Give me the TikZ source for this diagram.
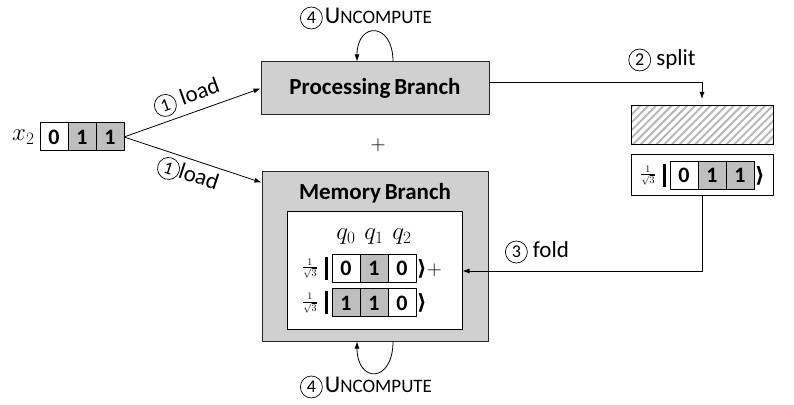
\documentclass[tikz,border=0pt]{standalone}
\usepackage{fontspec}
\setmainfont{Carlito}
\newfontfamily\symfont{DejaVu Sans}
\usetikzlibrary{positioning,patterns.meta,arrows.meta}
\definecolor{brgray}{HTML}{D0D0D0}
\definecolor{cellgray}{HTML}{BEBEBE}
\definecolor{hatchgray}{HTML}{B8B8B8}
\newcommand{\cnum}[1]{\tikz[baseline]\node[anchor=base,draw,circle,
  inner sep=0pt,minimum size=22pt,line width=.7pt,
  font=\fontsize{18}{18}\selectfont]{#1};}
\newcommand{\uncomp}{{\fontsize{24}{26}\selectfont U}%
  {\fontsize{19}{21}\selectfont NCOMPUTE}}
\newcommand{\barsym}{\rule[-5pt]{2.6pt}{23pt}}
\newcommand{\ketsym}{{\symfont\bfseries\fontsize{21}{23}\selectfont ⟩}}
\tikzset{
  cell/.style={draw,line width=1pt,minimum width=28pt,minimum height=28pt,
    inner sep=0pt,outer sep=0pt,font=\bfseries\fontsize{22}{24}\selectfont},
  branch/.style={draw=black!85,line width=1pt,fill=brgray},
  conn/.style={-{Latex[length=7pt,width=5pt]},line width=.8pt},
  lbl/.style={font=\fontsize{23}{25}\selectfont},
  bra/.style={inner sep=0pt,font=\fontsize{22}{24}\selectfont},
  frac/.style={inner sep=0pt,font=\fontsize{14}{16}\selectfont},
  qlab/.style={font=\fontsize{23}{25}\selectfont},
}

\begin{document}
\begin{tikzpicture}[x=1pt,y=1pt,line join=round]
\useasboundingbox (0,0) rectangle (794,404);
\fill[white] (0,0) rectangle (794,404);

% input register
\node[cell] (x0) at (54,267) {0};
\node[cell,fill=cellgray,right=0pt of x0] (x1) {1};
\node[cell,fill=cellgray,right=0pt of x1] (x2) {1};
\node[left=2pt of x0,font=\fontsize{24}{26}\selectfont] (xlab) {$x_2$};

% the two branches
\node[branch,minimum width=228pt,minimum height=53pt,
  font=\bfseries\fontsize{23}{25}\selectfont] (proc) at (375,315.5)
  {Processing\,Branch};
\node[branch,minimum width=226pt,minimum height=169pt] (mem) at (375,147.5) {};
\node[font=\bfseries\fontsize{23}{25}\selectfont] (memtitle) at (375,211)
  {Memory\,Branch};
\node[draw,line width=1pt,fill=white,minimum width=175pt,minimum height=118pt]
  (inner) at (374.5,133) {};
\node[font=\fontsize{22}{24}\selectfont] (plus) at (378,259) {$+$};

% memory contents
\node[qlab] (q0) at (346,167) {$q_0$};
\node[qlab] (q1) at (374,167) {$q_1$};
\node[qlab] (q2) at (402,167) {$q_2$};
\node[cell] (a0) at (346,135.5) {0};
\node[cell,fill=cellgray,right=0pt of a0] (a1) {1};
\node[cell,right=0pt of a1] (a2) {0};
\node[bra,left=4pt of a0] (abar) {\barsym};
\node[frac,left=7pt of abar] (afrac) {$\frac{1}{\sqrt{3}}$};
\node[bra,right=1pt of a2] (aket) {\ketsym$+$};
\node[cell,fill=cellgray] (b0) at (346,101) {1};
\node[cell,fill=cellgray,right=0pt of b0] (b1) {1};
\node[cell,right=0pt of b1] (b2) {0};
\node[bra,left=4pt of b0] (bbar) {\barsym};
\node[frac,left=7pt of bbar] (bfrac) {$\frac{1}{\sqrt{3}}$};
\node[bra,right=1pt of b2] (bket) {\ketsym};

% split side
\node[draw,line width=1pt,minimum width=142pt,minimum height=39pt,
  pattern={Lines[angle=45,distance=5.5pt,line width=2pt]},
  pattern color=hatchgray] (hatch) at (702,278.5) {};
\node[draw,line width=1pt,minimum width=142pt,minimum height=41pt]
  (sup) at (702,228.5) {};
\node[cell] (s0) at (684,228.5) {0};
\node[cell,fill=cellgray,right=0pt of s0] (s1) {1};
\node[cell,fill=cellgray,right=0pt of s1] (s2) {1};
\node[bra,left=4pt of s0] (sbar) {\barsym};
\node[frac,left=7pt of sbar] (sfrac) {$\frac{1}{\sqrt{3}}$};
\node[bra,right=1pt of s2] (sket) {\ketsym};

% connectors
\draw[conn] (x2.east) -- (proc.west)
  node[lbl,midway,sloped,above=1pt] (load1) {\cnum{1} load};
\draw[conn] (x2.east) -- ([yshift=-11pt]mem.north west)
  node[lbl,midway,sloped,below=1pt] (load2) {\cnum{1}load};
\draw[conn] ([yshift=6.5pt]proc.east) -| ([yshift=6pt]hatch.north);
\node[lbl] (split) at (662,344) {\cnum{2} split};
\draw[conn] (sup.south) |- (inner.east);
\node[lbl] (fold) at (537,152) {\cnum{3} fold};

% uncompute loops
\draw[conn] ([xshift=18pt]proc.north) .. controls +(0,40) and +(0,40)
  .. ([xshift=-18pt]proc.north);
\node (unc1) at (366,386) {\cnum{4} \uncomp};
\draw[conn] ([xshift=18pt]mem.south) .. controls +(0,-42) and +(0,-42)
  .. ([xshift=-18pt]mem.south);
\node (unc2) at (366,17) {\cnum{4} \uncomp};

\end{tikzpicture}
\end{document}
